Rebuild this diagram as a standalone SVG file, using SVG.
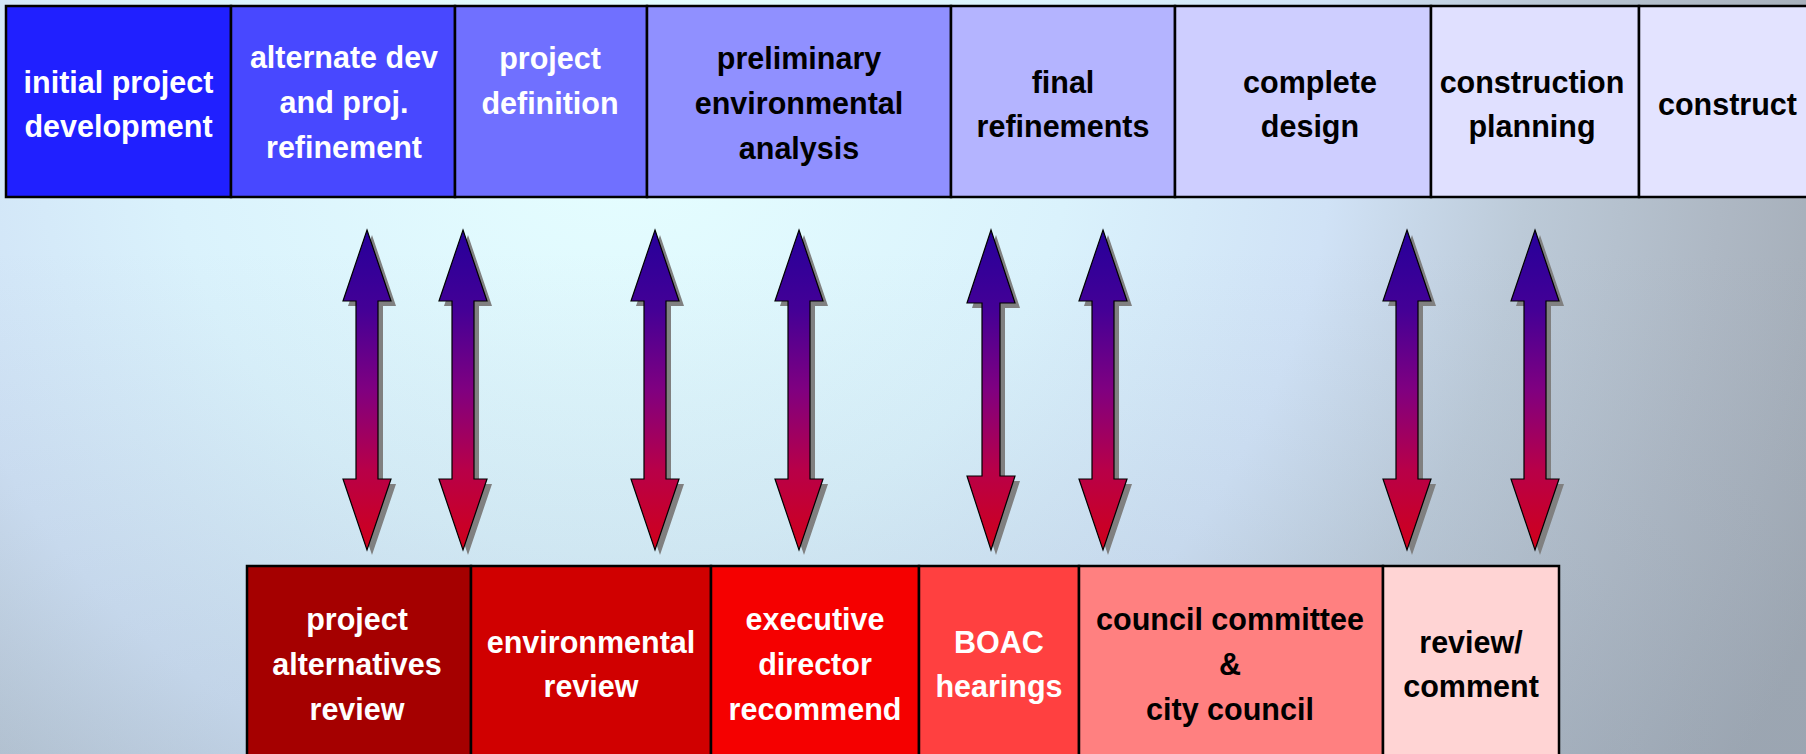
<svg xmlns="http://www.w3.org/2000/svg" xmlns:xlink="http://www.w3.org/1999/xlink" width="1806" height="754" viewBox="0 0 1806 754">
<style>
.box{stroke:#000;stroke-width:2.5}
.t{font-family:"Liberation Sans",Arial,sans-serif;font-weight:bold;font-size:30.5px;text-anchor:middle}
.w{fill:#fff}
.k{fill:#000}
.shadow{fill:#808080}
.arrow{fill:url(#ag);stroke:#000;stroke-width:1.2;stroke-linejoin:miter}
</style>
<defs>
<radialGradient id="bg" gradientUnits="userSpaceOnUse" cx="620" cy="100" r="1300">
<stop offset="0" stop-color="#e6ffff"/>
<stop offset="0.35" stop-color="#daf2fc"/>
<stop offset="0.55" stop-color="#d0e2f6"/>
<stop offset="0.7" stop-color="#bccad8"/>
<stop offset="0.85" stop-color="#aeb8c4"/>
<stop offset="1" stop-color="#a0a8b2"/>
</radialGradient>
<linearGradient id="shade" gradientUnits="userSpaceOnUse" x1="0" y1="250" x2="0" y2="754">
<stop offset="0" stop-color="#8a9cb0" stop-opacity="0"/>
<stop offset="1" stop-color="#8a9cb0" stop-opacity="0.22"/>
</linearGradient>
<linearGradient id="ag" gradientUnits="userSpaceOnUse" x1="0" y1="230" x2="0" y2="550">
<stop offset="0" stop-color="#26009a"/>
<stop offset="0.25" stop-color="#440096"/>
<stop offset="0.5" stop-color="#800080"/>
<stop offset="0.75" stop-color="#b80048"/>
<stop offset="1" stop-color="#d0001a"/>
</linearGradient>
<path id="arr" d="M0,230 L24,301 L11,301 L11,479 L24,479 L0,550 L-24,479 L-11,479 L-11,301 L-24,301 Z"/>
<path id="arrN" d="M0,230 L24,303 L9,303 L9,476 L24,476 L0,550 L-24,476 L-9,476 L-9,303 L-24,303 Z"/>
</defs>
<rect x="0" y="0" width="1806" height="754" fill="url(#bg)"/>
<rect x="0" y="0" width="1806" height="754" fill="url(#shade)"/>

<g id="top-row">
<g id="t1"><rect class="box" x="6" y="6" width="225" height="191" fill="#2020ff"/><text class="t w" x="118.5" y="93">initial project</text><text class="t w" x="118.5" y="137">development</text></g>
<g id="t2"><rect class="box" x="231" y="6" width="224" height="191" fill="#4848ff"/><text class="t w" x="344" y="68">alternate dev</text><text class="t w" x="344" y="113">and proj.</text><text class="t w" x="344" y="158">refinement</text></g>
<g id="t3"><rect class="box" x="455" y="6" width="192" height="191" fill="#7070ff"/><text class="t w" x="550" y="69">project</text><text class="t w" x="550" y="114">definition</text></g>
<g id="t4"><rect class="box" x="647" y="6" width="304" height="191" fill="#9090ff"/><text class="t k" x="799" y="69">preliminary</text><text class="t k" x="799" y="114">environmental</text><text class="t k" x="799" y="159">analysis</text></g>
<g id="t5"><rect class="box" x="951" y="6" width="224" height="191" fill="#b4b4ff"/><text class="t k" x="1063" y="93">final</text><text class="t k" x="1063" y="137">refinements</text></g>
<g id="t6"><rect class="box" x="1175" y="6" width="256" height="191" fill="#ceceff"/><text class="t k" x="1310" y="93">complete</text><text class="t k" x="1310" y="137">design</text></g>
<g id="t7"><rect class="box" x="1431" y="6" width="208" height="191" fill="#e0e0ff"/><text class="t k" x="1532" y="93">construction</text><text class="t k" x="1532" y="137">planning</text></g>
<g id="t8"><rect class="box" x="1639" y="6" width="178" height="191" fill="#e3e3ff"/><text class="t k" x="1727.5" y="115">construct</text></g>
</g>

<g id="connectors">
<use xlink:href="#arr" class="shadow" x="372" y="5"/><use xlink:href="#arr" class="arrow" x="367"/>
<use xlink:href="#arr" class="shadow" x="468" y="5"/><use xlink:href="#arr" class="arrow" x="463"/>
<use xlink:href="#arr" class="shadow" x="660" y="5"/><use xlink:href="#arr" class="arrow" x="655"/>
<use xlink:href="#arr" class="shadow" x="804" y="5"/><use xlink:href="#arr" class="arrow" x="799"/>
<use xlink:href="#arrN" class="shadow" x="996" y="5"/><use xlink:href="#arrN" class="arrow" x="991"/>
<use xlink:href="#arr" class="shadow" x="1108" y="5"/><use xlink:href="#arr" class="arrow" x="1103"/>
<use xlink:href="#arr" class="shadow" x="1412" y="5"/><use xlink:href="#arr" class="arrow" x="1407"/>
<use xlink:href="#arr" class="shadow" x="1540" y="5"/><use xlink:href="#arr" class="arrow" x="1535"/>
</g>

<g id="bottom-row">
<g id="b1"><rect class="box" x="247" y="566" width="224" height="200" fill="#a50000"/><text class="t w" x="357" y="630">project</text><text class="t w" x="357" y="675">alternatives</text><text class="t w" x="357" y="720">review</text></g>
<g id="b2"><rect class="box" x="471" y="566" width="240" height="200" fill="#d00000"/><text class="t w" x="591" y="653">environmental</text><text class="t w" x="591" y="697">review</text></g>
<g id="b3"><rect class="box" x="711" y="566" width="208" height="200" fill="#f50000"/><text class="t w" x="815" y="630">executive</text><text class="t w" x="815" y="675">director</text><text class="t w" x="815" y="720">recommend</text></g>
<g id="b4"><rect class="box" x="919" y="566" width="160" height="200" fill="#ff4040"/><text class="t w" x="999" y="653">BOAC</text><text class="t w" x="999" y="697">hearings</text></g>
<g id="b5"><rect class="box" x="1079" y="566" width="304" height="200" fill="#ff8080"/><text class="t k" x="1230" y="630">council committee</text><text class="t k" x="1230" y="675">&amp;</text><text class="t k" x="1230" y="720">city council</text></g>
<g id="b6"><rect class="box" x="1383" y="566" width="176" height="200" fill="#ffd4d4"/><text class="t k" x="1471" y="653">review/</text><text class="t k" x="1471" y="697">comment</text></g>
</g>
</svg>
